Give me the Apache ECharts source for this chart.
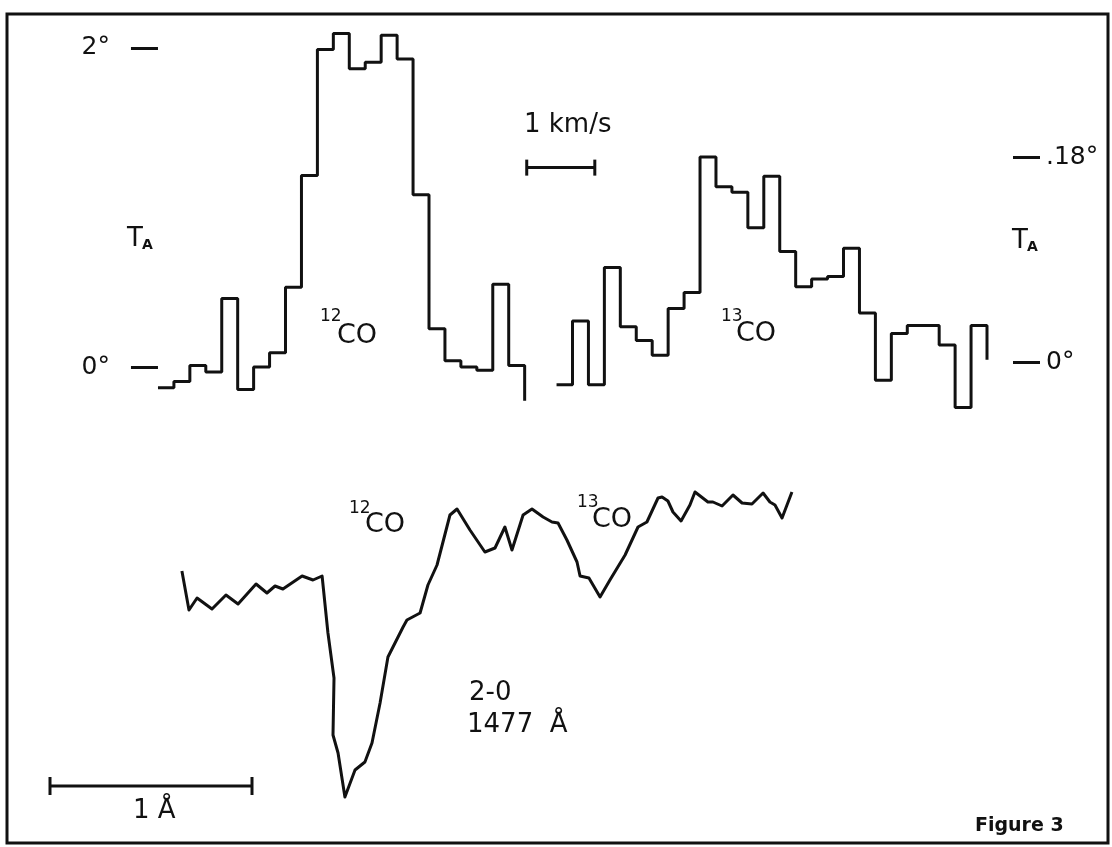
<!DOCTYPE html>
<html>
<head>
<meta charset="UTF-8">
<script type="text/javascript" src="https://cdn.jsdelivr.net/npm/echarts@6/dist/echarts.min.js"></script>
<title>Figure 3</title>
<style>
  html, body { margin: 0; padding: 0; background: #fff; }
  #graph { width: 1112px; height: 847px; }
</style>
</head>
<body>
<div id="graph"></div>
<script>
// radio spectra, T_A in degrees per channel
var co12Start = 0;
var co12 = [-0.13, -0.09, 0.01, -0.03, 0.43, -0.14, 0.00, 0.09, 0.50, 1.20, 1.99, 2.09,
            1.87, 1.91, 2.08, 1.93, 1.08, 0.24, 0.04, 0.00, -0.02, 0.52, 0.01];
var co12End = -0.21;
var co13Start = 25;
var co13 = [-0.020, 0.036, -0.020, 0.083, 0.031, 0.019, 0.006, 0.047, 0.061, 0.180, 0.154,
            0.149, 0.118, 0.163, 0.097, 0.066, 0.073, 0.075, 0.100, 0.043, -0.016, 0.025,
            0.032, 0.032, 0.015, -0.040, 0.032];
var co13End = 0.002;
var leftTicks = [0, 2];
var rightTicks = [0, 0.18];
var kmsBar = [23.13, 27.4];   // channels spanning 1 km/s
var kmsBarT = 1.25;

// UV absorption, wavelength offset (A) and relative intensity
var uvWave = [0.653, 0.688, 0.728, 0.802, 0.871, 0.931, 1.020, 1.074, 1.114, 1.153,
              1.248, 1.302, 1.347, 1.376, 1.406, 1.401, 1.426, 1.460, 1.510, 1.559,
              1.594, 1.634, 1.673, 1.748, 1.767, 1.832, 1.871, 1.916, 1.980, 2.015,
              2.079, 2.153, 2.203, 2.252, 2.287, 2.342, 2.386, 2.441, 2.485, 2.515,
              2.559, 2.609, 2.624, 2.668, 2.723, 2.772, 2.847, 2.911, 2.955, 3.010,
              3.030, 3.059, 3.084, 3.124, 3.168, 3.193, 3.257, 3.282, 3.327, 3.381,
              3.426, 3.475, 3.530, 3.564, 3.589, 3.624, 3.673];
var uvFlux = [0.996, 0.840, 0.888, 0.844, 0.900, 0.864, 0.944, 0.908, 0.936, 0.924,
              0.976, 0.960, 0.976, 0.748, 0.568, 0.340, 0.268, 0.092, 0.200, 0.232,
              0.308, 0.468, 0.652, 0.772, 0.800, 0.828, 0.940, 1.020, 1.220, 1.244,
              1.160, 1.072, 1.088, 1.172, 1.080, 1.220, 1.244, 1.212, 1.192, 1.188,
              1.120, 1.032, 0.976, 0.968, 0.892, 0.960, 1.060, 1.172, 1.192, 1.288,
              1.292, 1.276, 1.232, 1.196, 1.260, 1.312, 1.272, 1.272, 1.256, 1.300,
              1.268, 1.264, 1.308, 1.272, 1.260, 1.208, 1.312];
var angBar = [0, 1];
var angBarY = 0.136;

var INK = '#111';
var FONT = 'DejaVu Sans';

function steps(start, vals, end) {
  var pts = vals.map(function (v, i) { return [start + i, v]; });
  pts.push([start + vals.length, end]);
  return pts;
}

function txt(x, y, s, size, weight) {
  return { type: 'text', left: x, top: y,
    style: { text: s, fill: INK, font: (weight || 'normal') + ' ' + size + 'px "' + FONT + '"' } };
}

var myChart = echarts.init(document.getElementById('graph'));
var option = {
  backgroundColor: '#fff',
  animation: false,
  grid: [
    { left: 150, top: 16, width: 837, height: 399 },
    { left: 50, top: 470, width: 1010, height: 350 }
  ],
  xAxis: [
    { gridIndex: 0, type: 'value', min: -0.5, max: 52, show: false },
    { gridIndex: 1, type: 'value', min: 0, max: 5, show: false }
  ],
  yAxis: [
    { gridIndex: 0, type: 'value', min: -0.3, max: 2.2, position: 'left',
      axisLine: { show: false }, splitLine: { show: false },
      axisTick: { show: true, length: 27, customValues: leftTicks, lineStyle: { color: INK, width: 3 } },
      axisLabel: { show: true, customValues: leftTicks, margin: 40, color: INK, fontSize: 25, fontFamily: FONT,
        formatter: function (v) { return v + '°'; } } },
    { gridIndex: 0, type: 'value', min: -0.0465, max: 0.3038, position: 'right', offset: 26,
      axisLine: { show: false }, splitLine: { show: false },
      axisTick: { show: true, length: 27, customValues: rightTicks, lineStyle: { color: INK, width: 3 } },
      axisLabel: { show: true, customValues: rightTicks, margin: 33, color: INK, fontSize: 25, fontFamily: FONT,
        formatter: function (v) { return v === 0 ? '0°' : '.18°'; } } },
    { gridIndex: 1, type: 'value', min: 0, max: 1.4, show: false }
  ],
  series: [
    { type: 'line', xAxisIndex: 0, yAxisIndex: 0, step: 'end', symbol: 'none',
      lineStyle: { color: INK, width: 3 }, data: steps(co12Start, co12, co12End) },
    { type: 'line', xAxisIndex: 0, yAxisIndex: 1, step: 'end', symbol: 'none',
      lineStyle: { color: INK, width: 3 }, data: steps(co13Start, co13, co13End) },
    { type: 'line', xAxisIndex: 0, yAxisIndex: 0, symbol: 'rect', symbolSize: [3, 16],
      itemStyle: { color: INK }, lineStyle: { color: INK, width: 3 },
      data: kmsBar.map(function (c) { return [c, kmsBarT]; }) },
    { type: 'line', xAxisIndex: 1, yAxisIndex: 2, symbol: 'none',
      lineStyle: { color: INK, width: 3, join: 'round' },
      data: uvWave.map(function (w, i) { return [w, uvFlux[i]]; }) },
    { type: 'line', xAxisIndex: 1, yAxisIndex: 2, symbol: 'rect', symbolSize: [3, 18],
      itemStyle: { color: INK }, lineStyle: { color: INK, width: 3 },
      data: angBar.map(function (w) { return [w, angBarY]; }) }
  ],
  graphic: [
    { type: 'rect', shape: { x: 7, y: 14, width: 1101, height: 829 },
      style: { fill: 'none', stroke: INK, lineWidth: 3 } },
    txt(127, 226, 'T', 26), txt(142, 238, 'A', 14, 'bold'),
    txt(1012, 228, 'T', 26), txt(1027, 240, 'A', 14, 'bold'),
    txt(320, 308, '12', 17), txt(337, 322, 'CO', 27),
    txt(721, 308, '13', 17), txt(736, 320, 'CO', 27),
    txt(524, 112, '1 km/s', 26),
    txt(349, 500, '12', 17), txt(365, 511, 'CO', 27),
    txt(577, 494, '13', 17), txt(592, 506, 'CO', 27),
    txt(469, 680, '2-0', 26),
    txt(467, 712, '1477  Å', 26),
    txt(133, 798, '1 Å', 26),
    txt(975, 817, 'Figure 3', 19, 'bold')
  ]
};
myChart.setOption(option);
</script>
</body>
</html>
